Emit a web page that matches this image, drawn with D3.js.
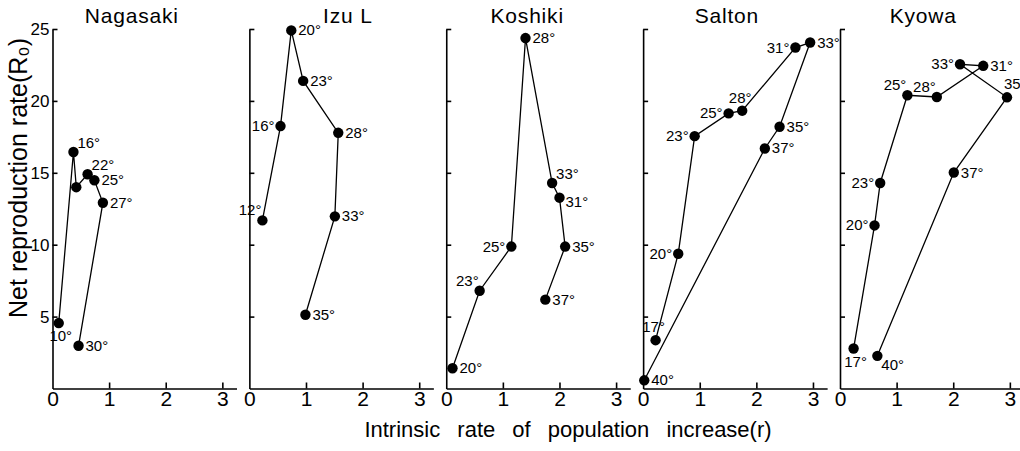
<!DOCTYPE html>
<html>
<head>
<meta charset="utf-8">
<script src="https://cdn.jsdelivr.net/npm/d3@7"></script>
<style>
  html, body { margin: 0; padding: 0; background: #fff; }
  svg { display: block; font-family: "Liberation Sans", Arial, sans-serif; }
</style>
</head>
<body>
<div id="chart"></div>
<script>
// Sites (one panel each)
const sites = ["Nagasaki", "Izu L", "Koshiki", "Salton", "Kyowa"]

// Temperatures (°C) along each curve, in drawing order ("" = point without label)
const temps = [
  ["10", "16", "", "22", "25", "27", "30"],
  ["12", "16", "20", "23", "28", "33", "35"],
  ["20", "23", "25", "28", "33", "31", "35", "37"],
  ["17", "20", "23", "25", "28", "31", "33", "35", "37", "40"],
  ["17", "20", "23", "25", "28", "31", "33", "35", "37", "40"]
]

// Intrinsic rate of population increase (r)
const rValues = [
  [0.11, 0.37, 0.42, 0.62, 0.74, 0.89, 0.46],
  [0.23, 0.55, 0.74, 0.95, 1.57, 1.51, 0.99],
  [0.11, 0.59, 1.15, 1.40, 1.87, 2.00, 2.10, 1.75],
  [0.22, 0.62, 0.91, 1.51, 1.75, 2.69, 2.95, 2.41, 2.15, 0.02],
  [0.24, 0.61, 0.71, 1.19, 1.71, 2.53, 2.12, 2.95, 2.01, 0.66]
]

// Net reproduction rate (R0)
const r0Values = [
  [4.55, 16.45, 14.0, 14.9, 14.48, 12.92, 2.97],
  [11.69, 18.25, 24.9, 21.39, 17.78, 11.97, 5.13],
  [1.41, 6.8, 9.87, 24.37, 14.29, 13.27, 9.87, 6.18],
  [3.36, 9.37, 17.55, 19.13, 19.32, 23.71, 24.06, 18.2, 16.69, 0.57],
  [2.78, 11.34, 14.29, 20.39, 20.27, 22.44, 22.55, 20.25, 15.02, 2.27]
]

const xTicks = [0, 1, 2, 3]
const yTicks = [5, 10, 15, 20, 25]

// layout: title centre (in r units) and where each temperature label sits
const titleAt = [1.4, 1.74, 1.43, 1.48, 1.47]
const labelSide = [
  ["b", "ur", "", "ur", "r", "r", "r"],
  ["ul", "l", "r", "r", "r", "r", "r"],
  ["r", "ul", "l", "r", "ur", "rd", "r", "r"],
  ["u", "l", "l", "l", "u", "l", "r", "r", "r", "r"],
  ["b", "l", "l", "ul", "ul", "r", "l", "us", "r", "br"]
]
const sideOffset = {
  r:  [7, 5, "start"],
  rd: [6, 9, "start"],
  l:  [-6, 5, "end"],
  ur: [4, -4, "start"],
  ul: [-1, -5, "end"],
  u:  [-2, -8, "middle"],
  us: [-3, -8, "start"],
  b:  [2, 18, "middle"],
  br: [4, 14, "start"]
}

const W = 1020, H = 451
const svg = d3.select("#chart").append("svg")
  .attr("width", W)
  .attr("height", H)

// panel origins
const panelX = d3.scalePoint().domain(sites).range([52.5, 840])

const x = d3.scaleLinear().domain([0, 3.25]).range([0, 184])
const y = d3.scaleLinear().domain([0, 25]).range([388.5, 29])

sites.forEach((site, i) => {
  const g = svg.append("g")
    .attr("transform", `translate(${panelX(site)},0)`)

  // x axis
  const xAxis = g.append("g")
    .attr("transform", `translate(0,${y(0)})`)
    .call(d3.axisBottom(x)
      .tickValues(xTicks)
      .tickFormat(d3.format("d"))
      .tickSizeInner(-6)
      .tickSizeOuter(0)
      .tickPadding(3))
  xAxis.selectAll("text").attr("font-size", 21).attr("fill", "#000")
  xAxis.selectAll(".tick").filter(d => d === 0).select("line").remove()

  // y axis, labels only on the first panel
  const yAxis = g.append("g")
    .call(d3.axisLeft(y)
      .tickValues(yTicks)
      .tickFormat(i === 0 ? d3.format("d") : "")
      .tickSizeInner(-5)
      .tickSizeOuter(0)
      .tickPadding(3))
  yAxis.selectAll("text").attr("font-size", 17).attr("fill", "#000")

  g.selectAll(".domain, .tick line")
    .attr("stroke", "#000")
    .attr("stroke-width", 1.6)

  // title
  g.append("text")
    .attr("x", x(titleAt[i]))
    .attr("y", 23)
    .attr("text-anchor", "middle")
    .attr("font-size", 21)
    .attr("letter-spacing", 0.8)
    .text(site)

  const pts = rValues[i].map((r, k) => ({ r: r, R0: r0Values[i][k], t: temps[i][k], side: labelSide[i][k] }))

  g.append("path")
    .datum(pts)
    .attr("fill", "none")
    .attr("stroke", "#000")
    .attr("stroke-width", 1.3)
    .attr("d", d3.line().x(d => x(d.r)).y(d => y(d.R0)))

  g.selectAll("circle")
    .data(pts)
    .join("circle")
    .attr("cx", d => x(d.r))
    .attr("cy", d => y(d.R0))
    .attr("r", 5.2)
    .attr("fill", "#000")

  g.selectAll("text.temp")
    .data(pts.filter(d => d.t !== ""))
    .join("text")
    .attr("class", "temp")
    .attr("x", d => x(d.r) + sideOffset[d.side][0])
    .attr("y", d => y(d.R0) + sideOffset[d.side][1])
    .attr("text-anchor", d => sideOffset[d.side][2])
    .attr("font-size", 15)
    .text(d => d.t + "°")
})

// axis titles
svg.append("text")
  .attr("transform", "translate(27,178) rotate(-90)")
  .attr("text-anchor", "middle")
  .attr("font-size", 25)
  .text("Net reproduction rate(R₀)")

svg.append("text")
  .attr("x", 568)
  .attr("y", 437)
  .attr("text-anchor", "middle")
  .attr("font-size", 22)
  .attr("word-spacing", 11)
  .text("Intrinsic rate of population increase(r)")
</script>
</body>
</html>
